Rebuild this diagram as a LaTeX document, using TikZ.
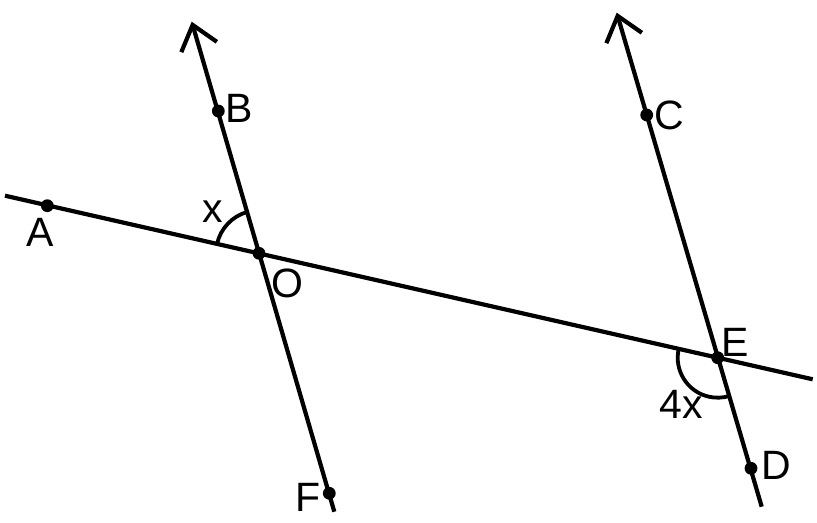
\documentclass[tikz,border=0pt]{standalone}
\usepackage{fontspec}
\setmainfont{Liberation Sans}
\usetikzlibrary{arrows.meta,positioning,calc}
\tikzset{>={Straight Barb[length=11.5pt,width=18.5pt]}}

\begin{document}
\begin{tikzpicture}[x=0.5pt, y=0.5pt, line width=2.1pt,
  punto/.style={circle,fill,inner sep=0pt,minimum size=6.4pt},
  etiq/.style={font=\fontsize{20.5}{24}\selectfont,inner sep=0pt}]
\useasboundingbox (0,0) rectangle (817,-523);

% Extremos de las rectas
\coordinate (aIzq) at (5,-195.7);
\coordinate (eDer) at (812.7,-379.3);
\coordinate (bTop) at (191.7,-21.7);
\coordinate (fBot) at (334.3,-511.7);
\coordinate (cTop) at (616.7,-12.7);
\coordinate (dBot) at (761.7,-506.7);

% Rectas
\draw (aIzq) -- (eDer);
\draw[->] (fBot) -- (bTop);
\draw[->] (dBot) -- (cTop);

% Puntos
\foreach \p/\px/\py in {A/47.3/205.7, B/218.3/111, O/259/253.3, F/329.3/493.3,
                        C/646.7/115, E/717.7/357.7, D/751/468.3} {
  \node[punto] (\p) at (\px,-\py) {};
}

% Etiquetas
\foreach \p/\px/\py in {A/40/232, B/239/108, O/287/283, F/308/497,
                        C/669/115, E/735/342, D/776/465} {
  \node[etiq] (lab\p) at (\px,-\py) {\p};
}

% Angulos
\draw[line width=1.9pt] (O) ++(106:21.5pt) arc[start angle=106, end angle=167.3, radius=21.5pt];
\node[etiq] (angX) at (213,-212) {x};
\draw[line width=1.9pt] (E) ++(167.2:20pt) arc[start angle=167.2, end angle=286.8, radius=20pt];
\node[etiq] (ang4x) at (681,-404) {4x};

\end{tikzpicture}
\end{document}
